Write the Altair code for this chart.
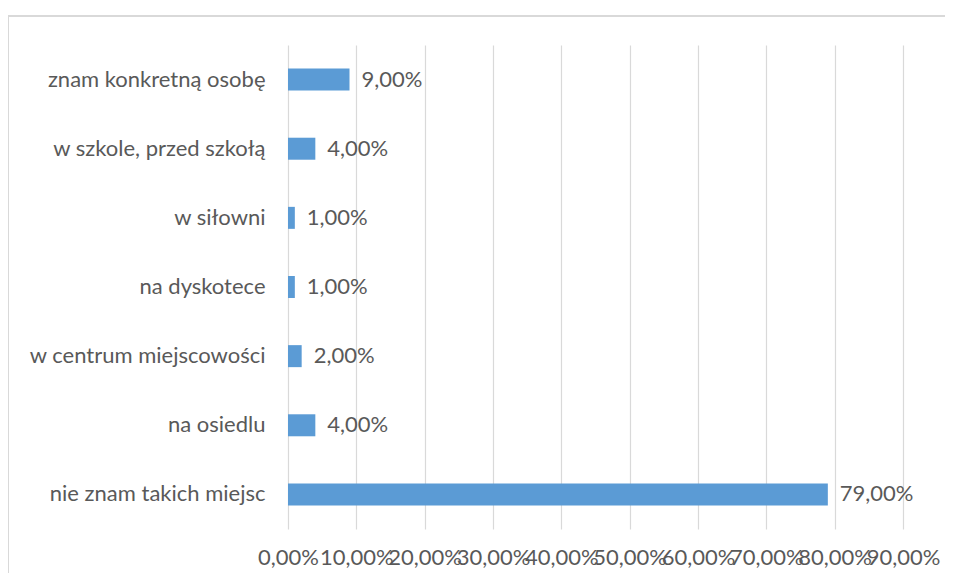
import altair as alt
import pandas as pd

categories = [
    "znam konkretną osobę",
    "w szkole, przed szkołą",
    "w siłowni",
    "na dyskotece",
    "w centrum miejscowości",
    "na osiedlu",
    "nie znam takich miejsc",
]
values = [0.09, 0.04, 0.01, 0.01, 0.02, 0.04, 0.79]
ticks = [0.0, 0.1, 0.2, 0.3, 0.4, 0.5, 0.6, 0.7, 0.8, 0.9]

df = pd.DataFrame({"cat": categories, "val": values})
df["label"] = [f"{v*100:.2f}%".replace(".", ",") for v in values]

FONT = "Lato"
FS = 22
TXT = "#595959"

base = alt.Chart(df).encode(
    y=alt.Y("cat:N", sort=categories, title=None,
            axis=alt.Axis(domain=False, ticks=False, labelPadding=23, labelLimit=400,
                          labelFont=FONT, labelFontSize=FS, labelColor=TXT)),
)

bars = base.mark_bar(color="#5B9BD5", size=22).encode(
    x=alt.X("val:Q", title=None,
            scale=alt.Scale(domain=[0, 0.9], nice=False),
            axis=alt.Axis(values=ticks, domain=False, ticks=False,
                          grid=True, gridColor="#D9D9D9", gridWidth=1.2,
                          labelExpr="replace(format(datum.value, '.2%'), '.', ',')",
                          labelFont=FONT, labelFontSize=FS, labelColor=TXT,
                          labelPadding=18, labelOverlap=False, labelFlush=False)),
)

labels = base.mark_text(align="left", dx=12, font=FONT, fontSize=FS, color=TXT).encode(
    x="val:Q", text="label:N"
)

frame_left = alt.Chart(df).mark_rule(color="#D9D9D9", strokeWidth=2).encode(
    x=alt.value(-280), y=alt.value(-29), y2=alt.value(600)
)
frame_top = alt.Chart(df).mark_rule(color="#D9D9D9", strokeWidth=2).encode(
    x=alt.value(-280), x2=alt.value(700), y=alt.value(-29)
)

chart = alt.layer(frame_left, frame_top, bars, labels).properties(
    width=615, height=484,
    autosize=alt.AutoSizeParams(type="none"),
    padding={"left": 280, "top": 37, "right": 42, "bottom": 44},
).configure_view(stroke=None)

chart.save("out.html", embed_options={"renderer": "svg", "actions": False})
